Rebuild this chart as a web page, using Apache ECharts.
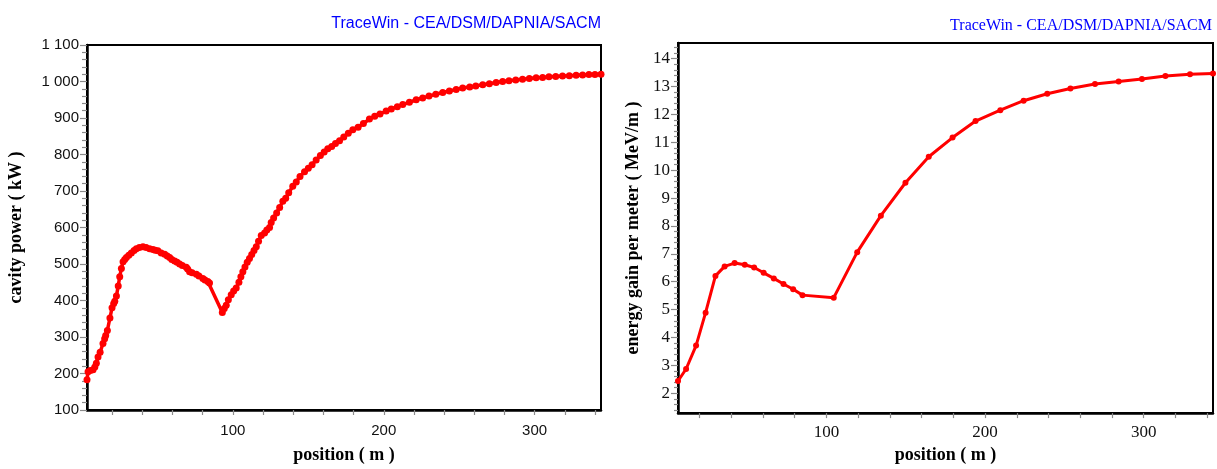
<!DOCTYPE html>
<html>
<head>
<meta charset="utf-8">
<script src="https://cdn.jsdelivr.net/npm/echarts@6/dist/echarts.min.js"></script>
<style>
html,body{margin:0;padding:0;background:#fff;}
#c{width:1217px;height:469px;}
</style>
</head>
<body>
<div id="c"></div>
<script>
// ---- Left chart: cavity power (kW) vs position (m)
const powerPos = [3.3,4,5.5,7.3,8.5,9.5,10.6,12,13.9,15,15.7,16.8,18.5,19.9,21,21.7,22.8,24,25,26.1,27.2,28.3,29.4,31,32.7,34.5,36,38,40.4,42.5,44.8,47,48.5,50.3,52.5,54.8,56.5,58.1,59.5,61.4,63,64.7,66.5,69.1,70,71.3,73,75.8,77.5,80.1,81.5,83.4,84.5,93,94.3,95.6,97,98.9,100.5,102.2,104,105.3,106.6,108,109.5,111,112.5,114,115.5,117,118.8,121,122.5,124.3,125.4,127,129,131,133.1,135,137,139.7,142,144.5,147.5,150,152.5,155.2,158,160.5,162.9,165.5,168,170.7,173.5,176.5,179.5,183,186.5,190.5,194,197.5,201.6,205,209,212.6,217,221.5,225.8,230,234.5,239.1,243.5,248,252.3,257,261,265.6,270,274.5,278.8,283,287.5,292,296.5,301,305.3,309.5,314,318.5,323,327.5,331.8,336,340,344];
const powerKW = [183,205,208,210,218,228,245,258,282,295,304,318,352,380,392,398,412,440,465,488,506,512,518,524,530,537,542,545,547,545,542,540,538,536,530,527,522,518,512,508,505,500,496,491,486,479,476,472,467,460,456,452,448,367,378,387,402,416,426,434,450,465,479,492,505,515,526,537,547,562,578,585,593,600,614,626,640,655,672,680,695,713,725,740,753,762,772,785,797,807,816,822,830,838,848,858,868,875,885,897,905,911,919,925,931,937,943,950,955,960,965,970,974,978,982,985,988,991,994,997,1000,1002,1004,1006,1008,1010,1011,1013,1014,1015,1016,1017,1018,1019,1019,1020];

// ---- Right chart: energy gain per meter (MeV/m) vs position (m)
const gainPos = [6.4,11.5,17.8,23.8,30,35.8,42.1,48.5,54.4,60.4,66.8,72.9,79,84.9,104.6,119.4,134.3,149.8,164.5,179.5,194,209.6,224.3,239.2,253.8,269.3,284.2,298.9,313.7,329.2,343.7];
const gainMeVm = [2.44,2.87,3.71,4.89,6.21,6.55,6.67,6.61,6.51,6.32,6.12,5.92,5.73,5.52,5.43,7.06,8.37,9.55,10.48,11.17,11.76,12.15,12.49,12.74,12.93,13.09,13.18,13.27,13.38,13.44,13.47];

// ---- Tick labels / tick positions
const xTickVals = [20,40,60,80,100,120,140,160,180,200,220,240,260,280,300,320,340];
const xLabelVals = [100,200,300];
const gainLabelVals = [2,3,4,5,6,7,8,9,10,11,12,13,14];
const gainMinorVals = [];
for (let i = 7; i <= 72; i++) { const v = +(i * 0.2).toFixed(1); if (Math.abs(v - Math.round(v)) > 1e-6) gainMinorVals.push(v); }

const watermark = 'TraceWin - CEA/DSM/DAPNIA/SACM';

const chart = echarts.init(document.getElementById('c'), null, {renderer: 'canvas'});
const tickGray = '#8a8a8a';
const serifBold = {fontFamily: 'Liberation Serif', fontWeight: 'bold', fontSize: 18, color: '#000'};

const option = {
  animation: false,
  backgroundColor: '#fff',
  title: [
    {text: watermark, right: 611, top: 11, textStyle: {color: '#0000ff', fontFamily: 'Liberation Sans', fontWeight: 'normal', fontSize: 16}},
    {text: watermark, right: 0, top: 13, textStyle: {color: '#0000ff', fontFamily: 'Liberation Serif', fontWeight: 'normal', fontSize: 16}}
  ],
  grid: [
    {left: 87, top: 45, width: 514, height: 371, show: true, borderColor: '#000', borderWidth: 2, backgroundColor: 'transparent'},
    {left: 678, top: 43, width: 535, height: 378, show: true, borderColor: '#000', borderWidth: 2, backgroundColor: 'transparent'}
  ],
  xAxis: [
    {
      type: 'value', gridIndex: 0, min: 3.3, max: 344,
      axisLine: {show: true, onZero: false, lineStyle: {color: '#000', width: 2.5}},
      axisTick: {show: true, customValues: xTickVals, length: 5, lineStyle: {color: tickGray, width: 1.2}},
      axisLabel: {customValues: xLabelVals, fontFamily: 'Liberation Sans', fontSize: 15, color: '#111', margin: 13},
      splitLine: {show: false},
      name: 'position ( m )', nameLocation: 'middle', nameGap: 36, nameTextStyle: serifBold
    },
    {
      type: 'value', gridIndex: 1, min: 6.4, max: 343.7,
      axisLine: {show: true, onZero: false, lineStyle: {color: '#000', width: 2.5}},
      axisTick: {show: true, customValues: xTickVals, length: 5, lineStyle: {color: tickGray, width: 1.2}},
      axisLabel: {customValues: xLabelVals, fontFamily: 'Liberation Serif', fontSize: 17, color: '#111', margin: 11},
      splitLine: {show: false},
      name: 'position ( m )', nameLocation: 'middle', nameGap: 32, nameTextStyle: serifBold
    }
  ],
  yAxis: [
    {
      type: 'value', gridIndex: 0, min: 100, max: 1100, interval: 100,
      axisLine: {show: true, onZero: false, lineStyle: {color: '#000', width: 2.5}},
      axisTick: {show: true, length: 7, lineStyle: {color: tickGray, width: 1.2}},
      minorTick: {show: true, splitNumber: 5, length: 5, lineStyle: {color: tickGray, width: 1.2}},
      axisLabel: {fontFamily: 'Liberation Sans', fontSize: 15, color: '#111', margin: 8,
        formatter: v => v >= 1000 ? Math.floor(v / 1000) + ' ' + String(v % 1000).padStart(3, '0') : String(v)},
      splitLine: {show: false},
      name: 'cavity power ( kW )', nameLocation: 'middle', nameGap: 62, nameTextStyle: serifBold
    },
    {
      type: 'value', gridIndex: 1, min: 1.29, max: 14.56, position: 'left',
      axisLine: {show: true, onZero: false, lineStyle: {color: '#000', width: 2.5}},
      axisTick: {show: true, customValues: gainLabelVals, length: 7, lineStyle: {color: tickGray, width: 1.2}},
      axisLabel: {customValues: gainLabelVals, fontFamily: 'Liberation Serif', fontSize: 17, color: '#111', margin: 8},
      splitLine: {show: false},
      name: 'energy gain per meter ( MeV/m )', nameLocation: 'middle', nameGap: 36, nameTextStyle: serifBold
    },
    {
      type: 'value', gridIndex: 1, min: 1.29, max: 14.56, position: 'left',
      axisLine: {show: false},
      axisTick: {show: true, customValues: gainMinorVals, length: 4, lineStyle: {color: tickGray, width: 1.2}},
      axisLabel: {show: false},
      splitLine: {show: false}
    }
  ],
  series: [
    {
      type: 'line', xAxisIndex: 0, yAxisIndex: 0,
      data: powerPos.map((x, i) => [x, powerKW[i]]),
      symbol: 'circle', symbolSize: 7, showSymbol: true,
      lineStyle: {color: '#ff0000', width: 3.5},
      itemStyle: {color: '#ff0000'}
    },
    {
      type: 'line', xAxisIndex: 1, yAxisIndex: 1,
      data: gainPos.map((x, i) => [x, gainMeVm[i]]),
      symbol: 'circle', symbolSize: 6, showSymbol: true,
      lineStyle: {color: '#ff0000', width: 3},
      itemStyle: {color: '#ff0000'}
    }
  ]
};
chart.setOption(option);
</script>
</body>
</html>
